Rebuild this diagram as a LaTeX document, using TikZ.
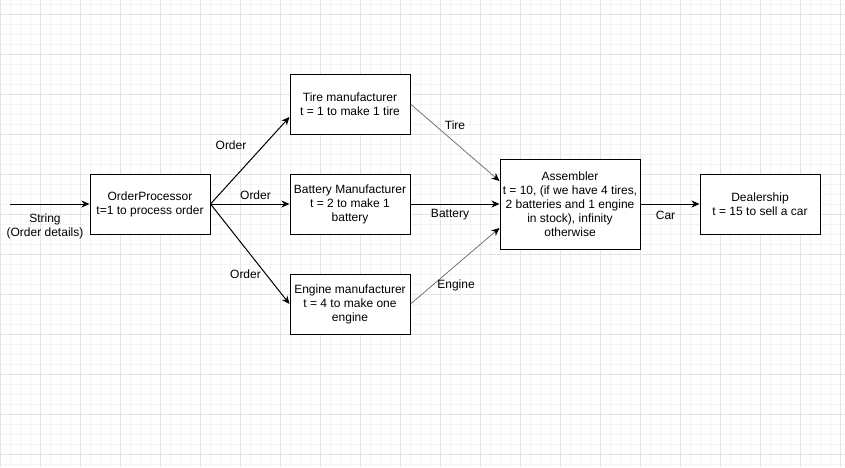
\documentclass[tikz,border=0pt]{standalone}
\usepackage{fontspec}
\setmainfont{Liberation Sans}
\usetikzlibrary{arrows.meta}
\definecolor{gridmajor}{HTML}{E4E4E4}
\definecolor{gridminor}{HTML}{F4F4F4}
\definecolor{thinedge}{HTML}{666666}
\begin{document}
\begin{tikzpicture}[x=1pt,y=-1pt,
  box/.style={draw=black, line width=1pt, fill=white, minimum width=120pt, minimum height=60pt, align=center, inner sep=2pt, font=\fontsize{12}{14}\selectfont},
  lbl/.style={inner sep=0pt, align=center, font=\fontsize{12}{14}\selectfont},
  arr/.style={line width=1pt, -{Stealth[length=8pt,width=7pt,inset=2.5pt]}},
  tarr/.style={line width=0.7pt, draw=thinedge, -{Stealth[length=8pt,width=7pt,inset=2.5pt,color=black]}}]
\useasboundingbox (0,0) rectangle (845,467);
\fill[white] (0,0) rectangle (845,467);
% grid
\foreach \gx in {0,10,...,840} {\draw[gridminor, line width=0.8pt] (\gx,0) -- (\gx,467);}
\foreach \gy in {4,14,...,464} {\draw[gridminor, line width=0.8pt] (0,\gy) -- (845,\gy);}
\foreach \gx in {0,40,...,840} {\draw[gridmajor, line width=0.8pt] (\gx,0) -- (\gx,467);}
\foreach \gy in {14,54,...,454} {\draw[gridmajor, line width=0.8pt] (0,\gy) -- (845,\gy);}
% nodes
\node[box] (op) at (150,204) {OrderProcessor\\t=1 to process order};
\node[box] (tire) at (350,104) {Tire manufacturer\\t = 1 to make 1 tire};
\node[box] (bat) at (350,204) {Battery Manufacturer\\t = 2 to make 1\\battery};
\node[box] (eng) at (350,304) {Engine manufacturer\\t = 4 to make one\\engine};
\node[box, minimum width=140pt, minimum height=90pt] (asm) at (570,204) {Assembler\\t = 10, (if we have 4 tires,\\2 batteries and 1 engine\\in stock), infinity\\otherwise};
\node[box] (deal) at (760,204) {Dealership\\t = 15 to sell a car};
\coordinate (in) at (10,204);
% connectors
\draw[arr] (in) -- (op.west);
\draw[arr] (op.east) -- ([yshift=-13pt]tire.west);
\draw[arr] (op.east) -- (bat.west);
\draw[arr] (op.east) -- (eng.west);
\draw[tarr] (tire.east) -- ([yshift=23pt]asm.west);
\draw[arr] (bat.east) -- (asm.west);
\draw[tarr] (eng.east) -- ([yshift=-24pt]asm.west);
\draw[arr] (asm.east) -- (deal.west);
% labels
\node[lbl] (lstr) at (45,226) {String\\(Order details)};
\node[lbl] (lo1) at (231,145) {Order};
\node[lbl] (lo2) at (255.5,195) {Order};
\node[lbl] (lo3) at (245.5,274.5) {Order};
\node[lbl] (ltire) at (455,125) {Tire};
\node[lbl] (lbat) at (450,215) {Battery};
\node[lbl] (leng) at (456,285) {Engine};
\node[lbl] (lcar) at (665.5,215) {Car};
\end{tikzpicture}
\end{document}
